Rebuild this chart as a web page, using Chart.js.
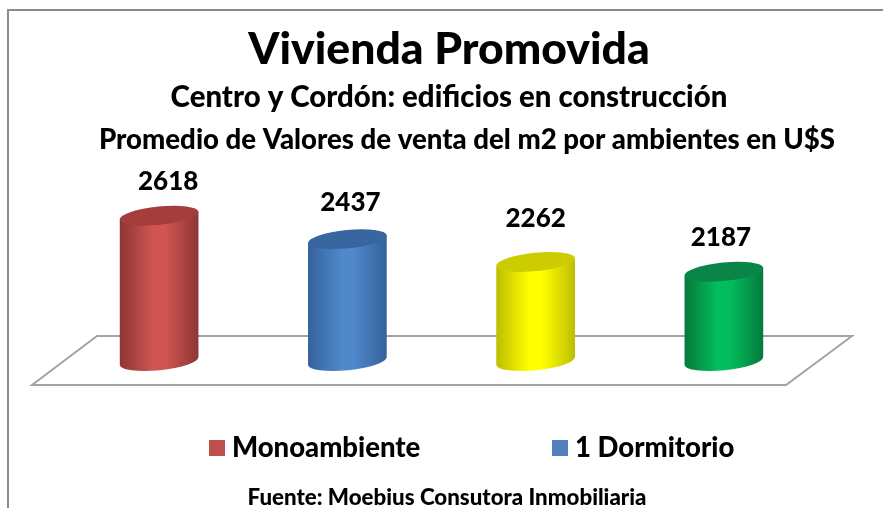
<!DOCTYPE html>
<html>
<head>
<meta charset="utf-8">
<title>Vivienda Promovida</title>
<script src="https://cdn.jsdelivr.net/npm/chart.js@4"></script>
<style>
  html, body { margin: 0; padding: 0; background: #fff; }
  #wrap { position: relative; width: 883px; height: 508px; overflow: hidden; }
</style>
</head>
<body>
<div id="wrap"><canvas id="chart" width="883" height="508"></canvas></div>
<script>
// data
var categories = ['Monoambiente', '1 Dormitorio', '2 Dormitorios', '3 Dormitorios'];
var values = [2618, 2437, 2262, 2187];
var legendNames = ['Monoambiente', '1 Dormitorio'];
var titleText = 'Vivienda Promovida';
var subtitleOne = 'Centro y Cordón: edificios en construcción';
var subtitleTwo = 'Promedio de Valores de venta del m2 por ambientes en U$S';
var sourceText = 'Fuente: Moebius Consutora Inmobiliaria';

// colours per cylinder: edge, middle, lid
var bodyEdge = ['#8e3533', '#34619b', '#bdbd00', '#05793c'];
var bodyMid = ['#cf5553', '#4f88cb', '#ffff00', '#03bd5c'];
var lidColor = ['#a43d3b', '#38669f', '#cccc00', '#0a8548'];
var legendColor = ['#c0504d', '#4f81bd'];
// label lift above the lid, the picture is not regular about it
var labelLift = [34, 37, 43, 34];
var labelShift = [9, 3, 0, -3];

var FONT = 'Lato, Carlito, sans-serif';
var TILT = -0.1;
var LID_RY = 9.2;

function text(ctx, str, x, y, size) {
  ctx.font = '900 ' + size + 'px ' + FONT;
  ctx.fillStyle = '#000';
  ctx.textAlign = 'center';
  ctx.textBaseline = 'middle';
  ctx.fillText(str, x, y);
}

// frame, headings and the sloped floor go under the bars
var backdrop = {
  id: 'backdrop',
  beforeDatasetsDraw: function(chart) {
    var ctx = chart.ctx, a = chart.chartArea;
    ctx.save();
    ctx.strokeStyle = '#8c8c8c';
    ctx.lineWidth = 2;
    ctx.beginPath();
    ctx.moveTo(8, 508);
    ctx.lineTo(8, 10);
    ctx.lineTo(883, 10);
    ctx.stroke();

    text(ctx, titleText, 449, 50, 44.5);
    text(ctx, subtitleOne, 449, 98, 29.4);
    text(ctx, subtitleTwo, 467, 140, 27.6);

    ctx.strokeStyle = '#a3a3a3';
    ctx.lineWidth = 2;
    ctx.beginPath();
    ctx.moveTo(a.left + 32, a.bottom - 25);
    ctx.lineTo(a.right + 34, a.bottom - 25);
    ctx.lineTo(a.right - 32, a.bottom + 24);
    ctx.lineTo(a.left - 33, a.bottom + 24);
    ctx.closePath();
    ctx.stroke();
    ctx.restore();
  }
};

// Chart.js has no cylinder, so paint one over each (transparent) bar element
var cylinders = {
  id: 'cylinders',
  afterDatasetsDraw: function(chart) {
    var ctx = chart.ctx;
    chart.getDatasetMeta(0).data.forEach(function(bar, i) {
      var rx = bar.width / 2, dx = rx * Math.cos(TILT), dy = rx * Math.sin(TILT);
      var g = ctx.createLinearGradient(bar.x - rx, 0, bar.x + rx, 0);
      g.addColorStop(0, bodyEdge[i]);
      g.addColorStop(0.42, bodyMid[i]);
      g.addColorStop(0.58, bodyMid[i]);
      g.addColorStop(1, bodyEdge[i]);
      ctx.save();
      ctx.fillStyle = g;
      ctx.beginPath();
      ctx.moveTo(bar.x - dx, bar.y - dy);
      ctx.lineTo(bar.x - dx, bar.base - dy);
      ctx.ellipse(bar.x, bar.base, rx, LID_RY, TILT, Math.PI, 0, true);
      ctx.lineTo(bar.x + dx, bar.y + dy);
      ctx.closePath();
      ctx.fill();
      ctx.fillStyle = lidColor[i];
      ctx.beginPath();
      ctx.ellipse(bar.x, bar.y, rx, LID_RY, TILT, 0, Math.PI * 2);
      ctx.fill();
      text(ctx, String(values[i]), bar.x + labelShift[i], bar.y - labelLift[i], 26);
      ctx.restore();
    });
  }
};

// legend only lists the first two names in the picture
var footer = {
  id: 'footer',
  afterDraw: function(chart) {
    var ctx = chart.ctx;
    ctx.save();
    [209, 552].forEach(function(x, i) {
      ctx.fillStyle = legendColor[i];
      ctx.fillRect(x, 440, 16, 16);
      ctx.font = '900 27.5px ' + FONT;
      ctx.fillStyle = '#000';
      ctx.textAlign = 'left';
      ctx.textBaseline = 'middle';
      ctx.fillText(legendNames[i], x + 23, 448);
    });
    text(ctx, sourceText, 447, 498, 22.3);
    ctx.restore();
  }
};

new Chart(document.getElementById('chart').getContext('2d'), {
  type: 'bar',
  data: {
    labels: categories,
    datasets: [{ data: values, base: 1500, backgroundColor: 'transparent', borderWidth: 0, categoryPercentage: 1, barPercentage: 0.42 }]
  },
  options: {
    responsive: false,
    animation: false,
    layout: { padding: { left: 65, right: 65, top: 166, bottom: 147 } },
    plugins: { legend: { display: false }, title: { display: false }, tooltip: { enabled: false } },
    scales: {
      x: { display: false },
      y: { display: false, min: 1500, max: 3000 }
    }
  },
  plugins: [backdrop, cylinders, footer]
});
</script>
</body>
</html>
